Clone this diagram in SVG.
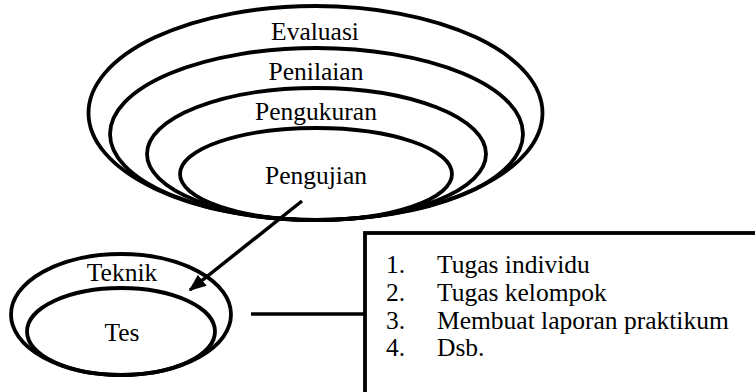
<svg xmlns="http://www.w3.org/2000/svg" width="755" height="392" viewBox="0 0 755 392">
  <style>
    .sh { fill: none; stroke: #000; stroke-width: 3.8; }
    text { font-family: 'Liberation Serif', 'Times New Roman', 'DejaVu Serif', serif; font-size: 25.5px; fill: #000; }
    .c { text-anchor: middle; }
  </style>
  <defs>
    <marker id="ah" viewBox="0 0 10 10" refX="9" refY="5" markerWidth="5" markerHeight="5" markerUnits="strokeWidth" orient="auto">
      <path d="M0,1 L10,5 L0,9 z" fill="#000"/>
    </marker>
  </defs>
  <rect width="755" height="392" fill="#fff"/>
  <g id="evaluasi">
    <ellipse class="sh" cx="315.5" cy="113" rx="227" ry="107"/>
    <text class="c" x="315" y="40">Evaluasi</text>
  </g>
  <g id="penilaian">
    <ellipse class="sh" cx="316.5" cy="134" rx="206.5" ry="86"/>
    <text class="c" x="316" y="80">Penilaian</text>
  </g>
  <g id="pengukuran">
    <ellipse class="sh" cx="316.5" cy="154" rx="169.5" ry="66"/>
    <text class="c" x="316" y="120">Pengukuran</text>
  </g>
  <g id="pengujian">
    <ellipse class="sh" cx="316" cy="174" rx="136" ry="46"/>
    <text class="c" x="316" y="184">Pengujian</text>
  </g>
  <g id="teknik">
    <ellipse class="sh" cx="121" cy="314.5" rx="110" ry="60.5"/>
    <text class="c" x="122" y="281">Teknik</text>
  </g>
  <g id="tes">
    <ellipse class="sh" cx="121" cy="331.5" rx="94" ry="43.5"/>
    <text class="c" x="122" y="341">Tes</text>
  </g>
  <g id="list">
    <rect class="sh" x="365" y="233" width="400" height="170" stroke-width="3"/>
    <text x="386" y="273">1.</text>
    <text x="437" y="273">Tugas individu</text>
    <text x="386" y="301">2.</text>
    <text x="437" y="301">Tugas kelompok</text>
    <text x="386" y="329">3.</text>
    <text x="437" y="329">Membuat laporan praktikum</text>
    <text x="386" y="356">4.</text>
    <text x="437" y="356">Dsb.</text>
  </g>
  <g id="connectors">
    <line x1="302" y1="201" x2="190" y2="290" stroke="#000" stroke-width="3.5" marker-end="url(#ah)"/>
    <line x1="251" y1="314" x2="365" y2="314" stroke="#000" stroke-width="3.5"/>
  </g>
</svg>
